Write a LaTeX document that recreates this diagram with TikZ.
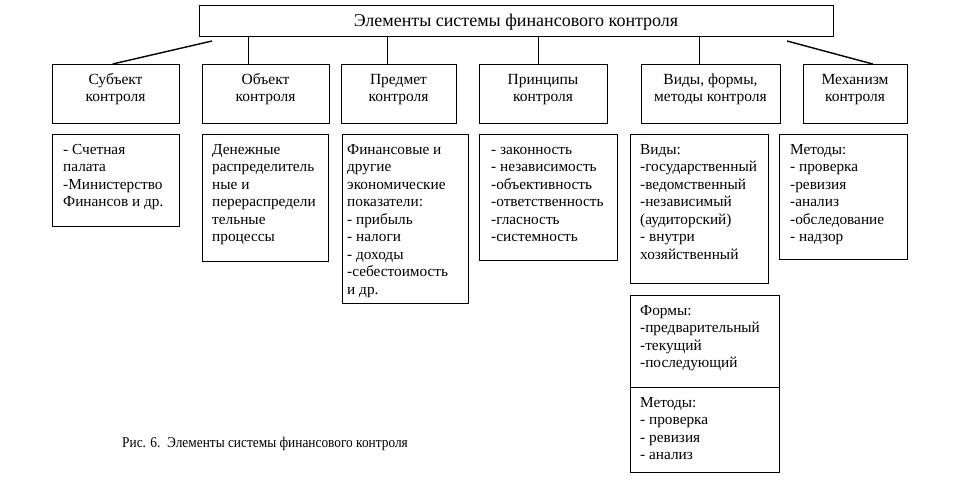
\documentclass[tikz,border=0pt]{standalone}
\usepackage{graphicx}
\usepackage{fontspec}
\setmainfont{Liberation Serif}
\begin{document}
\begin{tikzpicture}[x=1pt,y=-1pt,
  box/.style={draw, line width=1.4pt, inner sep=0pt, anchor=north west},
  lbl/.style={inner sep=0pt, font=\fontsize{15.3}{17.5}\selectfont, align=left, anchor=north west},
  hdr/.style={inner sep=0pt, font=\fontsize{15.5}{17.5}\selectfont, align=center, anchor=north},
  conn/.style={line width=1.4pt}]
\useasboundingbox[fill=white] (0,0) rectangle (955,489);
% top box
\node[box, minimum width=634pt, minimum height=31pt] (top) at (199,5) {};
\node[inner sep=0pt, font=\fontsize{18}{20}\selectfont, anchor=base] (topt) at (516,27) {Элементы системы финансового контроля};
% level 2 boxes
\node[box, minimum width=127pt, minimum height=59pt] (b1) at (52,64) {};
\node[box, minimum width=127pt, minimum height=59pt] (b2) at (202,64) {};
\node[box, minimum width=115pt, minimum height=59pt] (b3) at (341,64) {};
\node[box, minimum width=128pt, minimum height=59pt] (b4) at (479,64) {};
\node[box, minimum width=139pt, minimum height=59pt] (b5) at (641,64) {};
\node[box, minimum width=104pt, minimum height=59pt] (b6) at (803,64) {};
\node[hdr] (b1t) at (115.5,72) {\strut Субъект\\контроля};
\node[hdr] (b2t) at (265.5,72) {\strut Объект\\контроля};
\node[hdr] (b3t) at (398.5,72) {\strut Предмет\\контроля};
\node[hdr] (b4t) at (543,72) {\strut Принципы\\контроля};
\node[hdr] (b5t) at (710.5,72) {\strut Виды, формы,\\методы контроля};
\node[hdr] (b6t) at (855,72) {\strut Механизм\\контроля};
% connectors
\coordinate (e1) at (212,41);
\coordinate (p1) at ([xshift=-3.5pt]b1.north);
\draw[conn] (p1) -- (e1);
\coordinate (p2) at ([xshift=-17.5pt]b2.north);
\draw[conn] (p2) -- (p2 |- top.south);
\coordinate (p3) at ([xshift=-12pt]b3.north);
\draw[conn] (p3) -- (p3 |- top.south);
\coordinate (p4) at ([xshift=-5pt]b4.north);
\draw[conn] (p4) -- (p4 |- top.south);
\coordinate (p5) at ([xshift=-12pt]b5.north);
\draw[conn] (p5) -- (p5 |- top.south);
\coordinate (e6) at (787,41);
\coordinate (p6) at ([xshift=17pt]b6.north);
\draw[conn] (p6) -- (e6);
% level 3 boxes
\node[box, minimum width=127pt, minimum height=92pt] (c1) at (52,134) {};
\node[box, minimum width=126pt, minimum height=127pt] (c2) at (202,134) {};
\node[box, minimum width=126pt, minimum height=169pt] (c3) at (342,134) {};
\node[box, minimum width=138pt, minimum height=126pt] (c4) at (479,134) {};
\node[box, minimum width=138pt, minimum height=149pt] (c5) at (630,134) {};
\node[box, minimum width=128pt, minimum height=125pt] (c6) at (779,134) {};
\node[box, minimum width=149pt, minimum height=92pt] (f1) at (630,295) {};
\node[box, minimum width=149pt, minimum height=85pt] (m1) at (630,387) {};
\node[lbl] (c1t) at (63,142) {\strut - Счетная\\палата\\-Министерство\\Финансов и др.};
\node[lbl] (c2t) at (212,142) {\strut Денежные\\распределитель\\ные и\\перераспредели\\тельные\\процессы};
\node[lbl] (c3t) at (347,142) {\strut Финансовые и\\другие\\экономические\\показатели:\\- прибыль\\- налоги\\- доходы\\-себестоимость\\и др.};
\node[lbl] (c4t) at (491,142) {\strut - законность\\- независимость\\-объективность\\-ответственность\\-гласность\\-системность};
\node[lbl] (c5t) at (640,142) {\strut Виды:\\-государственный\\-ведомственный\\-независимый\\(аудиторский)\\- внутри\\хозяйственный};
\node[lbl] (c6t) at (790,142) {\strut Методы:\\- проверка\\-ревизия\\-анализ\\-обследование\\- надзор};
\node[lbl] (f1t) at (640,303) {\strut Формы:\\-предварительный\\-текущий\\-последующий};
\node[lbl] (m1t) at (640,395) {\strut Методы:\\- проверка\\- ревизия\\- анализ};
% caption
\node[inner sep=0pt, font=\fontsize{15}{17.5}\selectfont, anchor=base west] (cap) at (122,447) {\scalebox{0.89}[1]{Рис. 6.\ \ Элементы системы финансового контроля}};
\end{tikzpicture}
\end{document}
